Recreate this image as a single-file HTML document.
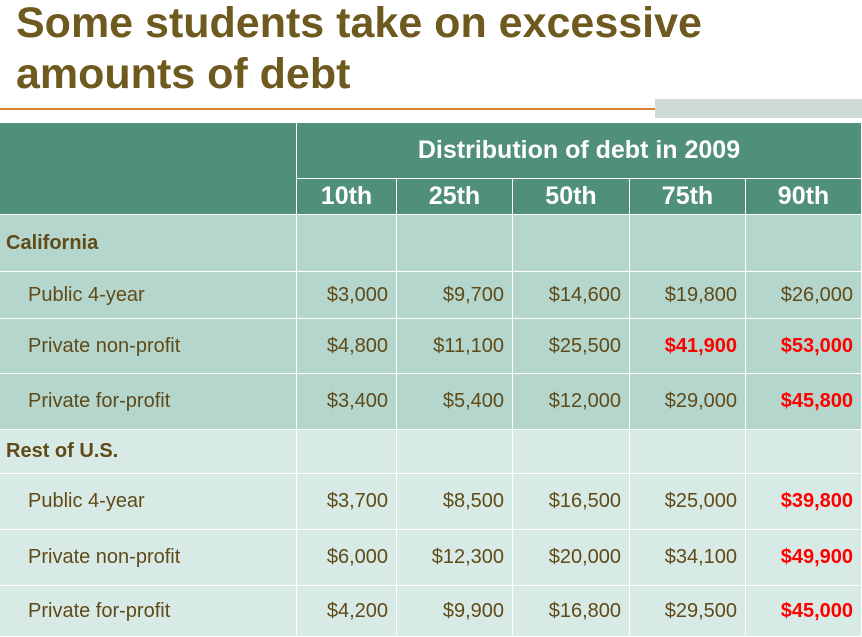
<!DOCTYPE html>
<html><head><meta charset="utf-8"><style>
body{margin:0;width:862px;height:637px;overflow:hidden;background:#fff;font-family:"Liberation Sans",Arial,sans-serif;position:relative}
.t{position:absolute;left:16px;font-size:43px;font-weight:bold;color:#6e5a1f;line-height:50px}
.c{position:absolute;box-sizing:border-box;border-right:1px solid #fff;border-bottom:1px solid #fff;display:flex;align-items:center;font-size:20px;color:#5f4a18}
.h{background:#4f8f7b;color:#fff;font-weight:bold;justify-content:center;font-size:25px}
.r{justify-content:flex-end;padding-right:8px}
.red{color:#f00;font-weight:bold}
</style></head><body>
<div class="t" style="top:-2px">Some students take on excessive</div>
<div class="t" style="top:49px">amounts of debt</div>
<div style="position:absolute;left:0;top:108px;width:862px;height:2px;background:#d9822b"></div>
<div style="position:absolute;left:655px;top:99px;width:207px;height:19px;background:#cfd9d5"></div>
<div id="tbl"></div>
<script>
const cols=[0,297,397,513,630,746,862];
const headers=["10th","25th","50th","75th","90th"];
const rowLabels=["California","Public 4-year","Private non-profit","Private for-profit","Rest of U.S.","Public 4-year","Private non-profit","Private for-profit"];
const rowValues=[null,[3000,9700,14600,19800,26000],[4800,11100,25500,41900,53000],[3400,5400,12000,29000,45800],null,[3700,8500,16500,25000,39800],[6000,12300,20000,34100,49900],[4200,9900,16800,29500,45000]];
const redCells=[[],[],[3,4],[4],[],[4],[4],[4]];
const rowY=[215,272,319,374,430,474,530,586,637];
const tbl=document.getElementById('tbl');
function cell(x,y,w,h,cls,txt,name){const d=document.createElement('div');d.className='c '+cls;d.style.left=x+'px';d.style.top=y+'px';d.style.width=w+'px';d.style.height=h+'px';d.textContent=txt;


tbl.appendChild(d);return d;}
cell(0,123,297,92,'h','','header-blank');
cell(297,123,565,56,'h','Distribution of debt in 2009','header-title');
headers.forEach((h,i)=>cell(cols[i+1],179,cols[i+2]-cols[i+1],36,'h',h,'header-'+h));
rowLabels.forEach((lab,r)=>{const y=rowY[r],hh=rowY[r+1]-y;const bg=r<4?'#b5d6cd':'#d8eae5';
const isGroup=rowValues[r]===null;
const lc=cell(0,y,297,hh,'',lab,isGroup?'group-label':'row-label');lc.style.background=bg;lc.style.paddingLeft=isGroup?'6px':'28px';if(isGroup)lc.style.fontWeight='bold';
for(let i=0;i<5;i++){const v=rowValues[r];const txt=v?'$'+v[i].toLocaleString('en-US'):'';
const red=redCells[r].includes(i);const c=cell(cols[i+1],y,cols[i+2]-cols[i+1],hh,'r'+(red?' red':''),txt,'value-cell');c.style.background=bg;}
});
</script>
</body></html>
